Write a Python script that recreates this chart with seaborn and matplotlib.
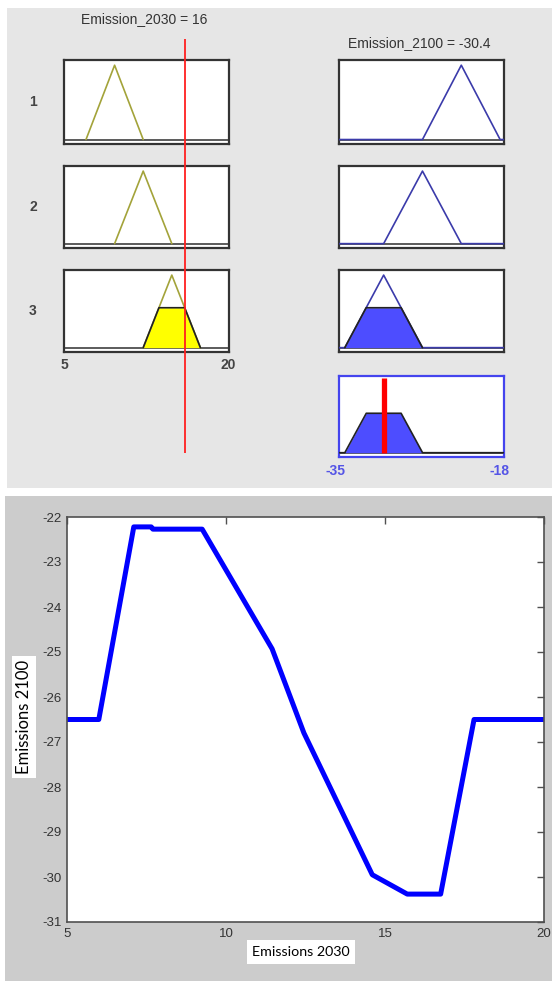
import numpy as np
import pandas as pd
import matplotlib
matplotlib.use("Agg")
import matplotlib.pyplot as plt
from matplotlib.patches import Rectangle
import seaborn as sns

# ---- fuzzy inference system: one input, one output, three rules ----
in_range = [5, 20]
out_range = [-35, -18]
in_mfs = [[7.0, 9.6, 12.2], [9.6, 12.2, 14.8], [12.2, 14.8, 17.4]]
out_mfs = [[-26.4, -22.4, -18.4], [-30.4, -26.4, -22.4], [-34.4, -30.4, -26.4]]
rule_labels = ["1", "2", "3"]
firing = [0.0, 0.0, 0.55]
input_value = 16
output_value = -30.4

# ---- input/output response curve ----
emis_2030 = [5, 6.0, 7.1, 7.65, 7.7, 9.25, 11.45, 12.45, 14.6, 15.7, 16.75, 17.8, 20]
emis_2100 = [-26.5, -26.5, -22.22, -22.22, -22.27, -22.27, -24.93, -26.8,
             -29.95, -30.38, -30.38, -26.5, -26.5]
x_ticks = [5, 10, 15, 20]
y_ticks = [-31, -30, -29, -28, -27, -26, -25, -24, -23, -22]

sns.set_theme(style="white")
plt.rcParams["font.family"] = ["Liberation Sans", "DejaVu Sans"]
plt.rcParams["axes.unicode_minus"] = False

W, H = 552, 981
fig = plt.figure(figsize=(W / 100, H / 100), dpi=100, facecolor="white")


def rect(x0, y0, x1, y1):
    return [x0 / W, 1 - y1 / H, (x1 - x0) / W, (y1 - y0) / H]


def fx(px):
    return px / W


def fy(py):
    return 1 - py / H


# panel backgrounds (behind every axes)
fig.patches.append(Rectangle((fx(7), fy(488)), fx(552) - fx(7), fy(8) - fy(488),
                             transform=fig.transFigure, facecolor="#e6e6e6",
                             edgecolor="none", zorder=-5))
fig.patches.append(Rectangle((fx(5), fy(981)), fx(552) - fx(5), fy(496) - fy(981),
                             transform=fig.transFigure, facecolor="#cccccc",
                             edgecolor="none", zorder=-5))

OLIVE = "#a3a33a"
NAVY = "#3b3baa"
FILL_BLUE = "#4d4dff"
FRAME = "#333333"
YLIM = (-0.06, 1.07)


def small_axes(r, frame=FRAME):
    ax = fig.add_axes(r)
    ax.set_facecolor("white")
    ax.set_xticks([])
    ax.set_yticks([])
    for s in ax.spines.values():
        s.set_color(frame)
        s.set_linewidth(1.6)
    ax.set_ylim(*YLIM)
    return ax


def clipped(mf, w):
    a, b, c = mf
    return [a, a + w * (b - a), c - w * (c - b), c], [0, w, w, 0]


row_y = [(60, 144), (166, 248), (270, 352)]

for i, (y0, y1) in enumerate(row_y):
    # input membership function
    axl = small_axes(rect(64, y0, 229, y1))
    axl.set_xlim(*in_range)
    axl.axhline(0, color="#404040", lw=1.2, zorder=2)
    a, b, c = in_mfs[i]
    axl.plot([a, b, c], [0, 1, 0], color=OLIVE, lw=1.2, zorder=3)
    if firing[i] > 0:
        xs, ys = clipped(in_mfs[i], firing[i])
        axl.fill_between(xs, 0, ys, color="#ffff00", lw=0, zorder=2)
        axl.plot(xs, ys, color="#222222", lw=1.2, zorder=4)
    fig.text(fx(33), fy((y0 + y1) / 2), rule_labels[i], ha="center", va="center",
             fontsize=10, fontweight="bold", color="#444444")

    # output membership function
    axr = small_axes(rect(339, y0, 504, y1))
    axr.set_xlim(*out_range)
    axr.axhline(0, color="#404040", lw=1.2, zorder=2)
    a, b, c = out_mfs[i]
    axr.plot([out_range[0], a, b, c, out_range[1]], [0, 0, 1, 0, 0],
             color=NAVY, lw=1.2, zorder=3)
    if firing[i] > 0:
        xs, ys = clipped(out_mfs[i], firing[i])
        axr.fill_between(xs, 0, ys, color=FILL_BLUE, lw=0, zorder=2)
        axr.plot(xs, ys, color="#222222", lw=1.2, zorder=4)

# aggregated output
axa = small_axes(rect(339, 376, 504, 457), frame="#4444ee")
axa.set_xlim(*out_range)
grid = np.linspace(out_range[0], out_range[1], 1701)
agg = np.zeros_like(grid)
for mf, w in zip(out_mfs, firing):
    a, b, c = mf
    mu = np.clip(np.minimum((grid - a) / (b - a), (c - grid) / (c - b)), 0, 1)
    agg = np.maximum(agg, np.minimum(mu, w))
axa.axhline(0, color="#404040", lw=1.2, zorder=2)
axa.fill_between(grid, 0, agg, where=agg > 0, color=FILL_BLUE, lw=0, zorder=2)
axa.plot(grid, agg, color="#222222", lw=1.2, zorder=3)
axa.vlines(output_value, 0, 1.04, color="#ff0000", lw=3.8, zorder=5)

# range labels
for px, txt in [(64, in_range[0]), (228, in_range[1])]:
    fig.text(fx(px), fy(365), f"{txt}", ha="center", va="center", fontsize=10,
             fontweight="bold", color="#444444")
for px, txt in [(336, out_range[0]), (500, out_range[1])]:
    fig.text(fx(px), fy(471), f"{txt}", ha="center", va="center", fontsize=10,
             fontweight="bold", color="#5555e6")

fig.text(fx(144), fy(19), f"Emission_2030 = {input_value:g}", ha="center",
         va="center", fontsize=10, color="#333333")
fig.text(fx(419), fy(43), f"Emission_2100 = {output_value:g}", ha="center",
         va="center", fontsize=10, color="#333333")

# input cursor across the rule column
axc = fig.add_axes(rect(64, 39, 229, 453))
axc.set_xlim(*in_range)
axc.set_ylim(0, 1)
axc.axis("off")
axc.patch.set_alpha(0)
axc.axvline(input_value, color="#ff2020", lw=1.3)

# ---- response curve ----
ax = fig.add_axes(rect(67, 517, 544, 922))
ax.set_facecolor("white")
df = pd.DataFrame({"e2030": emis_2030, "e2100": emis_2100})
sns.lineplot(data=df, x="e2030", y="e2100", ax=ax, color="#0000ff", lw=3.6,
             sort=False, estimator=None)
ax.set_xlim(5, 20)
ax.set_ylim(-31, -22)
ax.set_xticks(x_ticks)
ax.set_yticks(y_ticks)
ax.set_xlabel("")
ax.set_ylabel("")
for s in ax.spines.values():
    s.set_color("#505050")
    s.set_linewidth(1.2)
ax.tick_params(direction="in", length=5, width=1, color="#505050", top=True,
               right=True, labelsize=9.5, labelcolor="#333333", pad=4)

lab_font = ["Lato", "DejaVu Sans"]
fig.text(fx(301), fy(952), "Emissions 2030", ha="center", va="center",
         fontsize=10.3, family=lab_font, color="black",
         bbox=dict(facecolor="white", edgecolor="none", pad=4))
fig.text(fx(24), fy(717), "Emissions 2100", ha="center", va="center",
         rotation=90, fontsize=12, family=lab_font, color="black",
         bbox=dict(facecolor="white", edgecolor="none", pad=3))

fig.savefig("out.png", dpi=100, facecolor="white")
